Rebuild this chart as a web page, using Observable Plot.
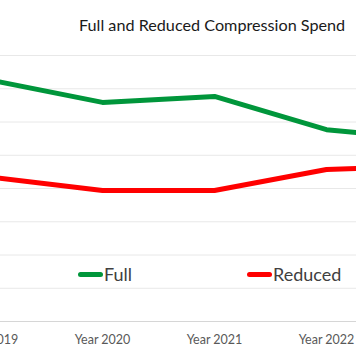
<!DOCTYPE html>
<html>
<head>
<meta charset="utf-8">
<script src="https://cdn.jsdelivr.net/npm/d3@7"></script>
<script src="https://cdn.jsdelivr.net/npm/@observablehq/plot@0.6"></script>
<style>
  html, body { margin: 0; padding: 0; background: #fff; overflow: hidden; width: 356px; height: 364px; }
  #title { height: 40px; font-family: Lato, "Open Sans", sans-serif; font-size: 16.2px; color: #1a1a1a; position: relative; }
  #title span { position: absolute; left: 79px; top: 15px; white-space: nowrap; }
  #wrap { position: relative; }
  .leg { position: absolute; font-family: Lato, "Open Sans", sans-serif; font-size: 18px; color: #404040; display: flex; align-items: center; white-space: nowrap; }
  .sw { display: inline-block; width: 25px; height: 5px; border-radius: 3px; margin-right: 1px; }
</style>
</head>
<body>
<div id="title"><span>Full and Reduced Compression Spend</span></div>
<div id="wrap"></div>
<script>
const years = ["Year 2019", "Year 2020", "Year 2021", "Year 2022", "Year 2023"];
const fullValues = [7.26, 6.59, 6.77, 5.77, 5.44];
const reducedValues = [4.34, 3.94, 3.94, 4.57, 4.68];
const gridTicks = [1, 2, 3, 4, 5, 6, 7, 8];
const seriesNames = ["Full", "Reduced"];
const seriesColors = ["#00963B", "#FF0000"];

const rows = [];
years.forEach((y, i) => {
  rows.push({year: y, value: fullValues[i], series: seriesNames[0]});
  rows.push({year: y, value: reducedValues[i], series: seriesNames[1]});
});

const chart = Plot.plot({
  width: 356,
  height: 324,
  marginTop: 15, marginBottom: 43, marginLeft: 0, marginRight: 0,
  style: { background: "#fff", overflow: "visible" },
  x: { type: "point", domain: years, range: [-10, 438], padding: 0, label: null },
  y: { domain: [0, 8], label: null },
  color: { domain: seriesNames, range: seriesColors },
  marks: [
    Plot.ruleY(gridTicks, { stroke: "#e8e8e8", strokeWidth: 1 }),
    Plot.ruleY([0], { stroke: "#d6d6d6", strokeWidth: 1 }),
    Plot.lineY(rows, { x: "year", y: "value", stroke: "series", z: "series", strokeWidth: 5, strokeLinejoin: "round", strokeLinecap: "round" }),
    Plot.axisX({ tickSize: 0, tickPadding: 14, fontSize: 12.5, fill: "#595959", fontFamily: "Lato, 'Open Sans', sans-serif", label: null }),
    Plot.axisY({ ticks: [], label: null })
  ]
});
document.getElementById("wrap").appendChild(chart);

// legend overlay
const legendPos = [{left: 78, top: 223}, {left: 247, top: 223}];
seriesNames.forEach((name, i) => {
  const d = document.createElement("div");
  d.className = "leg";
  d.style.left = legendPos[i].left + "px";
  d.style.top = legendPos[i].top + "px";
  d.innerHTML = `<span class="sw" style="background:${seriesColors[i]}"></span>${name}`;
  document.getElementById("wrap").appendChild(d);
});
</script>
</body>
</html>
